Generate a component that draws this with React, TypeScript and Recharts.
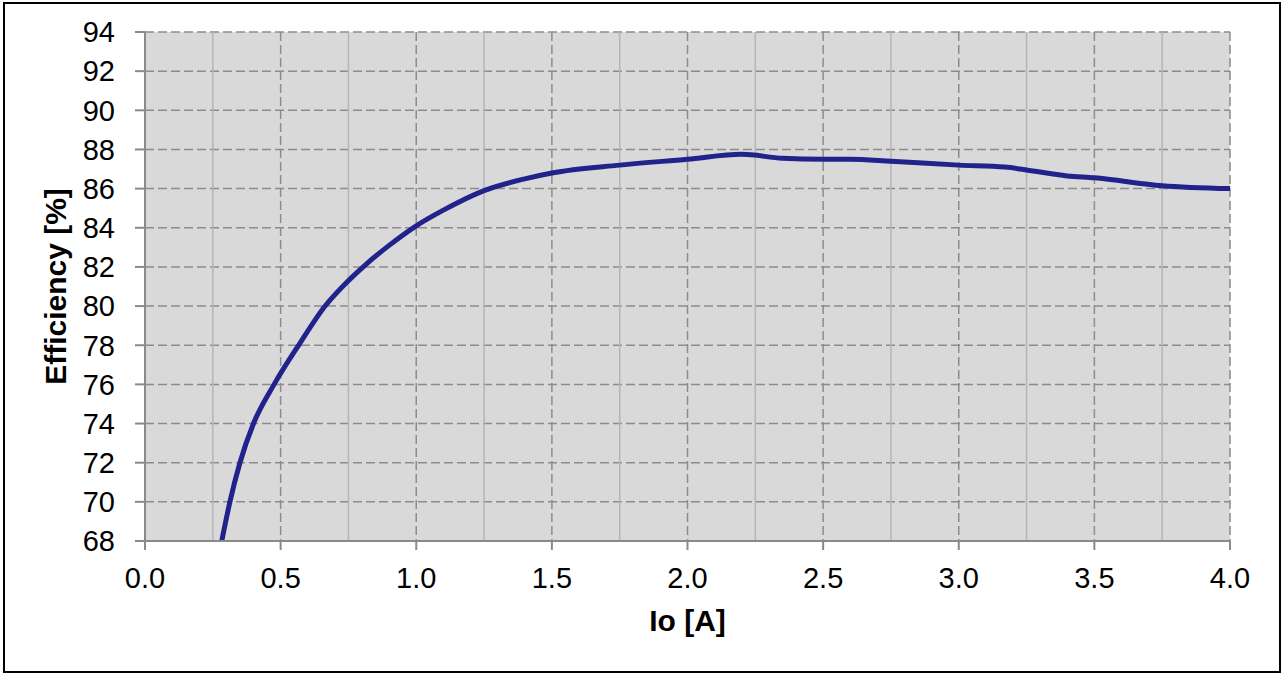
import { LineChart, Line, XAxis, YAxis, CartesianGrid, ReferenceLine, Label } from "recharts"

const currents = [0.283, 0.313, 0.35, 0.4, 0.476, 0.571, 0.664, 0.75, 0.82, 0.9, 1.0, 1.1, 1.25, 1.4, 1.5, 1.75, 2.0, 2.2, 2.35, 2.5, 2.6, 2.75, 3.0, 3.17, 3.25, 3.4, 3.5, 3.75, 4.0]
const efficiency = [68, 70, 72, 74, 76, 78.1, 80, 81.3, 82.2, 83.1, 84.1, 84.9, 85.9, 86.5, 86.8, 87.2, 87.5, 87.75, 87.55, 87.5, 87.5, 87.4, 87.2, 87.1, 86.95, 86.65, 86.55, 86.15, 86.0]

const xTicks = [0, 0.5, 1.0, 1.5, 2.0, 2.5, 3.0, 3.5, 4.0]
const xMinor = [0.25, 0.75, 1.25, 1.75, 2.25, 2.75, 3.25, 3.75]
const yTicks = [68, 70, 72, 74, 76, 78, 80, 82, 84, 86, 88, 90, 92, 94]

const data = currents.map((io, i) => ({ io, eff: efficiency[i] }))

const axisColor = "#8a8a8a"
const font = "Arial, 'Liberation Sans', sans-serif"

export default function App() {
  return (
    <div style={{ position: "absolute", left: 0, top: 0, width: 1283, height: 675, background: "#fff", fontFamily: font }}>
      <div style={{ position: "absolute", left: 3, top: 2, width: 1274, height: 667, border: "2px solid #000" }} />
      <div style={{ position: "absolute", left: 0, top: 0 }}>
        <LineChart width={1283} height={675} data={data} margin={{ top: 32, right: 53, bottom: 74, left: 35 }}>
          <CartesianGrid
            fill="#d9d9d9"
            stroke="#8c8c8c"
            strokeWidth={1.5}
            strokeDasharray="9 4"
            horizontalValues={yTicks}
            verticalValues={xTicks}
          />
          {xMinor.map((x) => (
            <ReferenceLine key={x} x={x} stroke="#b5b5b5" strokeWidth={1.5} />
          ))}
          <XAxis
            dataKey="io"
            type="number"
            domain={[0, 4]}
            ticks={xTicks}
            tickFormatter={(v: number) => v.toFixed(1)}
            stroke={axisColor}
            strokeWidth={2}
            height={60}
            tickSize={9}
            tickMargin={17}
            tick={{ fill: "#000", fontSize: 29, fontFamily: font }}
            interval={0}
          >
            <Label value="Io [A]" position="bottom" offset={9} style={{ fill: "#000", fontSize: 30, fontWeight: "bold", fontFamily: font }} />
          </XAxis>
          <YAxis
            type="number"
            domain={[68, 94]}
            ticks={yTicks}
            stroke={axisColor}
            strokeWidth={2}
            width={110}
            tickSize={10}
            tickMargin={20}
            tick={{ fill: "#000", fontSize: 29, fontFamily: font }}
            interval={0}
          >
            <Label
              value="Efficiency [%]"
              angle={-90}
              position="insideLeft"
              offset={0}
              dx={20}
              style={{ fill: "#000", fontSize: 30, fontWeight: "bold", fontFamily: font, textAnchor: "middle" }}
            />
          </YAxis>
          <Line
            type="monotone"
            dataKey="eff"
            stroke="#22228c"
            strokeWidth={5}
            dot={false}
            isAnimationActive={false}
          />
        </LineChart>
      </div>
    </div>
  )
}
